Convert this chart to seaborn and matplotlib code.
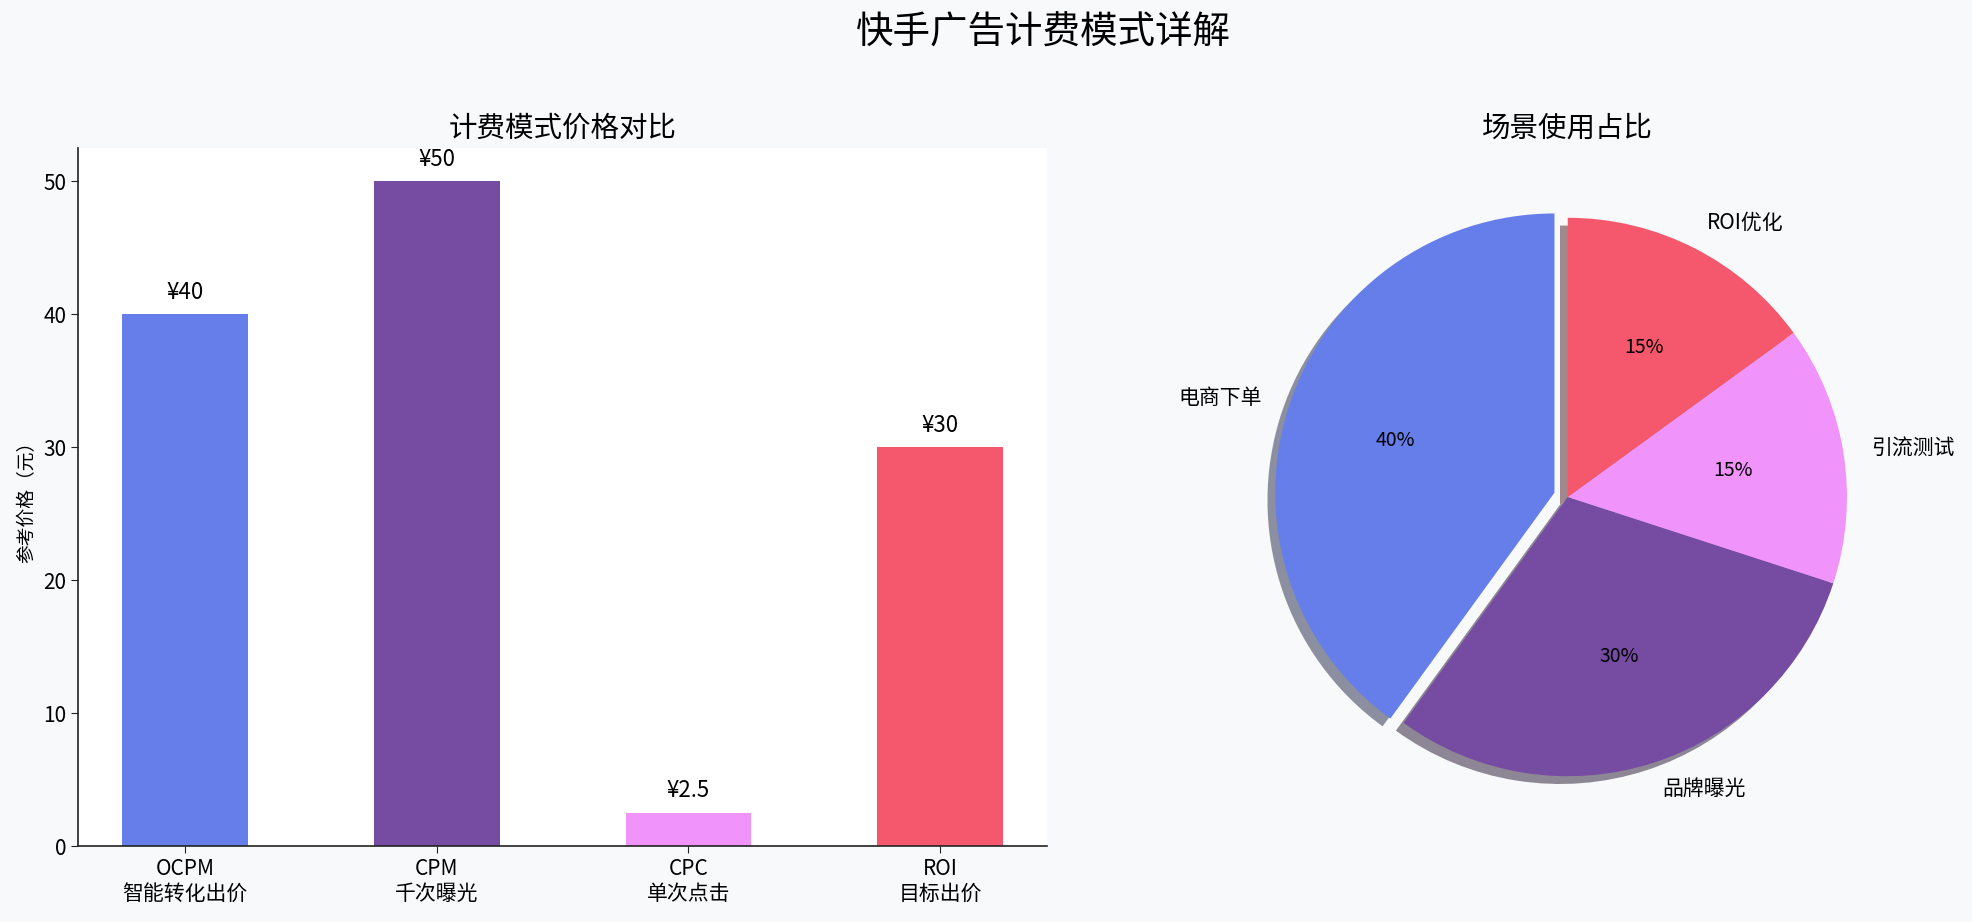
import matplotlib
matplotlib.use("Agg")
import matplotlib.pyplot as plt
import seaborn as sns
import pandas as pd

sns.set_style("white")
plt.rcParams['font.family'] = ['Noto Sans CJK SC', 'DejaVu Sans']
plt.rcParams['axes.unicode_minus'] = False
plt.rcParams['text.color'] = 'black'
plt.rcParams['axes.labelcolor'] = 'black'
plt.rcParams['xtick.color'] = 'black'
plt.rcParams['ytick.color'] = 'black'

# ---- data ----
modes = ["OCPM\n智能转化出价", "CPM\n千次曝光", "CPC\n单次点击", "ROI\n目标出价"]
prices = [40, 50, 2.5, 30]
price_labels = ["¥40", "¥50", "¥2.5", "¥30"]
bar_colors = ["#667eea", "#764ba2", "#f093fb", "#f5576c"]

scenes = ["电商下单", "品牌曝光", "引流测试", "ROI优化"]
shares = [40, 30, 15, 15]
pie_colors = ["#667eea", "#764ba2", "#f093fb", "#f5576c"]
explode = [0.05, 0, 0, 0]

fig = plt.figure(figsize=(19.72, 9.22), dpi=100, facecolor="#f8f9fa")

# ---- bar chart ----
ax1 = fig.add_axes([0.0396, 0.0824, 0.4914, 0.7571])
ax1.set_facecolor("white")
df = pd.DataFrame({"mode": modes, "price": prices})
sns.barplot(data=df, x="mode", y="price", hue="mode", palette=bar_colors,
            saturation=1, width=0.5, legend=False, linewidth=0, ax=ax1)
ax1.set_xlim(-0.425, 3.425)
ax1.set_ylim(0, 52.5)
for i, (v, t) in enumerate(zip(prices, price_labels)):
    ax1.text(i, v + 0.8, t, ha="center", va="bottom", fontsize=16)
ax1.set_title("计费模式价格对比", fontsize=20.5, pad=8)
ax1.set_xlabel("")
ax1.set_ylabel("参考价格（元）", fontsize=13.5)
ax1.tick_params(axis="both", labelsize=15, length=5, colors="#222222", labelcolor="black")
ax1.tick_params(axis="both", which="both", bottom=True, left=True)
for s in ["top", "right"]:
    ax1.spines[s].set_visible(False)
for s in ["left", "bottom"]:
    ax1.spines[s].set_color("#222222")
    ax1.spines[s].set_linewidth(1.2)

# ---- pie chart ----
ax2 = fig.add_axes([0.6145, 0.0824, 0.361, 0.7571])
ax2.set_facecolor("#f8f9fa")
wedges, texts, autotexts = ax2.pie(shares, labels=scenes, colors=pie_colors,
                                   explode=explode, autopct="%1.0f%%",
                                   startangle=90, shadow=True,
                                   wedgeprops={"linewidth": 0},
                                   textprops={"fontsize": 15})
for t in autotexts:
    t.set_fontsize(14)
ax2.set_title("场景使用占比", fontsize=20.5, pad=8)
ax2.set_aspect("equal")

fig.suptitle("快手广告计费模式详解", fontsize=27, x=0.529, y=0.985)

fig.savefig("out.png", dpi=100, facecolor=fig.get_facecolor())
